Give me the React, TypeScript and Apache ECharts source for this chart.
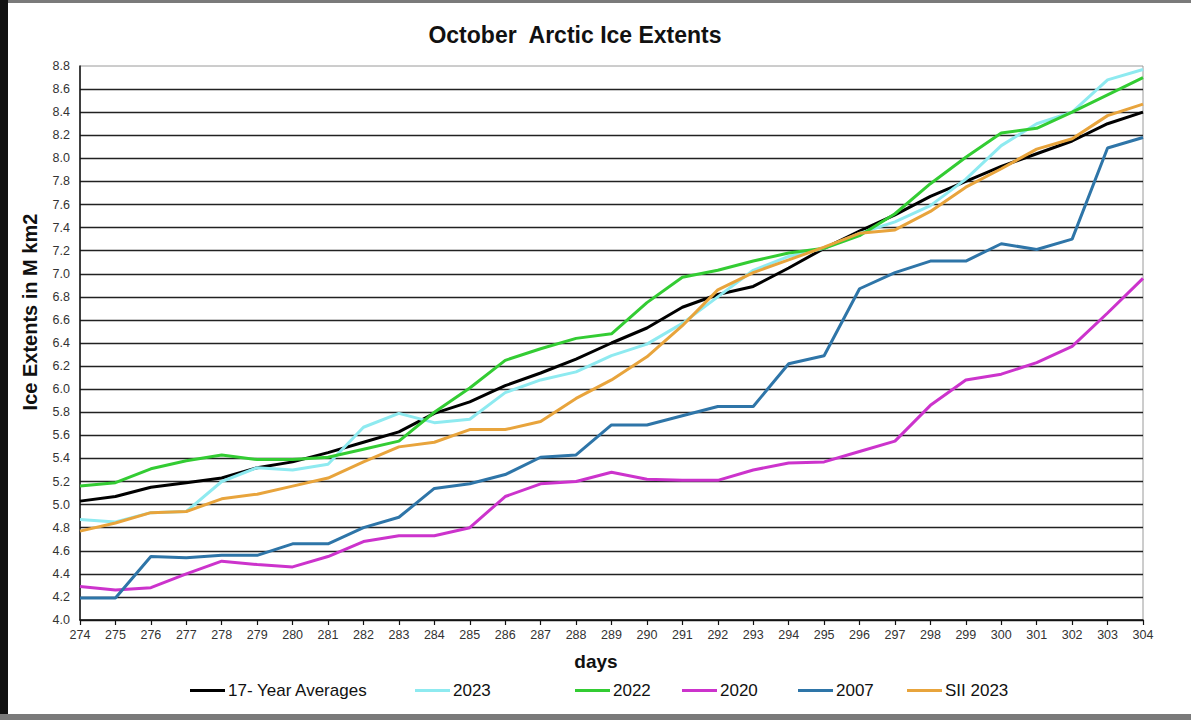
import React, { useEffect, useRef } from "react";
import * as echarts from "echarts";

const days = [274, 275, 276, 277, 278, 279, 280, 281, 282, 283, 284, 285, 286, 287, 288, 289, 290, 291, 292, 293, 294, 295, 296, 297, 298, 299, 300, 301, 302, 303, 304];

const avg17 = [5.03, 5.07, 5.15, 5.19, 5.23, 5.32, 5.37, 5.45, 5.54, 5.63, 5.79, 5.89, 6.03, 6.14, 6.26, 6.40, 6.53, 6.71, 6.82, 6.89, 7.05, 7.22, 7.37, 7.51, 7.67, 7.80, 7.93, 8.04, 8.15, 8.30, 8.40];
const y2023 = [4.87, 4.85, 4.93, 4.94, 5.20, 5.32, 5.30, 5.35, 5.67, 5.79, 5.71, 5.74, 5.97, 6.08, 6.15, 6.29, 6.39, 6.57, 6.80, 7.03, 7.15, 7.22, 7.35, 7.45, 7.59, 7.82, 8.11, 8.30, 8.40, 8.68, 8.77];
const y2022 = [5.16, 5.19, 5.31, 5.38, 5.43, 5.39, 5.39, 5.41, 5.48, 5.55, 5.80, 6.01, 6.25, 6.35, 6.44, 6.48, 6.75, 6.97, 7.03, 7.11, 7.18, 7.22, 7.33, 7.52, 7.78, 8.01, 8.22, 8.26, 8.40, 8.55, 8.70];
const y2020 = [4.29, 4.26, 4.28, 4.40, 4.51, 4.48, 4.46, 4.55, 4.68, 4.73, 4.73, 4.80, 5.07, 5.18, 5.20, 5.28, 5.22, 5.21, 5.21, 5.30, 5.36, 5.37, 5.46, 5.55, 5.86, 6.08, 6.13, 6.23, 6.37, 6.66, 6.96];
const y2007 = [4.19, 4.19, 4.55, 4.54, 4.56, 4.56, 4.66, 4.66, 4.80, 4.89, 5.14, 5.18, 5.26, 5.41, 5.43, 5.69, 5.69, 5.77, 5.85, 5.85, 6.22, 6.29, 6.87, 7.01, 7.11, 7.11, 7.26, 7.21, 7.30, 8.09, 8.18];
const sii2023 = [4.77, 4.84, 4.93, 4.94, 5.05, 5.09, 5.16, 5.23, 5.37, 5.50, 5.54, 5.65, 5.65, 5.72, 5.92, 6.08, 6.28, 6.55, 6.86, 7.01, 7.12, 7.23, 7.35, 7.38, 7.54, 7.75, 7.91, 8.08, 8.17, 8.37, 8.47];

const seriesNames = ["17- Year Averages", "2023", "2022", "2020", "2007", "SII 2023"];
const seriesValues = [avg17, y2023, y2022, y2020, y2007, sii2023];
const seriesColors = ["#000000", "#8EEAF0", "#33CC33", "#CC33CC", "#2E75A8", "#E8A43C"];
const legendLefts = [185, 410, 570, 677, 793, 902];

export default function App() {
  const ref = useRef<HTMLDivElement>(null);
  useEffect(() => {
    document.body.style.margin = "0";
    const chart = echarts.init(ref.current!, undefined, { renderer: "svg" });
    const font = "'Liberation Sans', Arial, sans-serif";
    chart.setOption({
      animation: false,
      backgroundColor: "#ffffff",
      textStyle: { fontFamily: font },
      title: {
        text: "October  Arctic Ice Extents",
        left: 570,
        textAlign: "center",
        top: 18,
        textStyle: { fontSize: 23, fontWeight: "bold", color: "#111", fontFamily: font },
      },
      grid: {
        left: 80,
        right: 48,
        top: 66,
        bottom: 100,
        show: true,
        borderColor: "#9a9a9a",
        borderWidth: 1,
      },
      legend: seriesNames.map((n, i) => ({
        data: [n],
        left: legendLefts[i],
        top: 677,
        icon: "rect",
        itemWidth: 35,
        itemHeight: 3,
        itemGap: 0,
        textStyle: { fontSize: 17, color: "#111", fontFamily: font, padding: [0, 0, 0, -2] },
      })),
      xAxis: {
        type: "value",
        min: 274,
        max: 304,
        interval: 1,
        axisLine: { show: true, lineStyle: { color: "#111", width: 1.5 } },
        axisTick: { show: true, length: 5, inside: false, lineStyle: { color: "#111", width: 1.2 } },
        axisLabel: { fontSize: 12.5, color: "#333", margin: 8, formatter: (v: number) => String(v) },
        splitLine: { show: false },
      },
      yAxis: {
        type: "value",
        min: 4.0,
        max: 8.8,
        interval: 0.2,
        axisLine: { show: true, lineStyle: { color: "#111", width: 1.5 } },
        axisTick: { show: false },
        axisLabel: { fontSize: 12.5, color: "#333", margin: 10, formatter: (v: number) => v.toFixed(1) },
        splitLine: { show: true, showMaxLine: false, lineStyle: { color: "#222", width: 1.3 } },
      },
      graphic: [
        { type: "rect", shape: { x: 0, y: 0, width: 1191, height: 3 }, style: { fill: "#7a7a7a" } },
        { type: "rect", shape: { x: 0, y: 0, width: 8, height: 720 }, style: { fill: "#111111" } },
        { type: "rect", shape: { x: 0, y: 714, width: 1191, height: 6 }, style: { fill: "#7a7a7a" } },
        {
          type: "text",
          x: 30,
          y: 312,
          rotation: Math.PI / 2,
          style: { text: "Ice Extents in M km2", fontSize: 20, fontWeight: "bold", fill: "#111", font: `bold 20px ${font}`, align: "center", verticalAlign: "middle" },
        },
        {
          type: "text",
          x: 596,
          y: 661,
          style: { text: "days", fontSize: 19, fontWeight: "bold", fill: "#111", font: `bold 19px ${font}`, align: "center", verticalAlign: "middle" },
        },
      ],
      series: seriesNames.map((n, i) => ({
        name: n,
        type: "line",
        showSymbol: false,
        symbol: "none",
        data: days.map((d, j) => [d, seriesValues[i][j]]),
        lineStyle: { color: seriesColors[i], width: 3 },
        itemStyle: { color: seriesColors[i] },
      })),
    });
    return () => chart.dispose();
  }, []);
  return <div ref={ref} style={{ width: 1191, height: 720 }} />;
}
